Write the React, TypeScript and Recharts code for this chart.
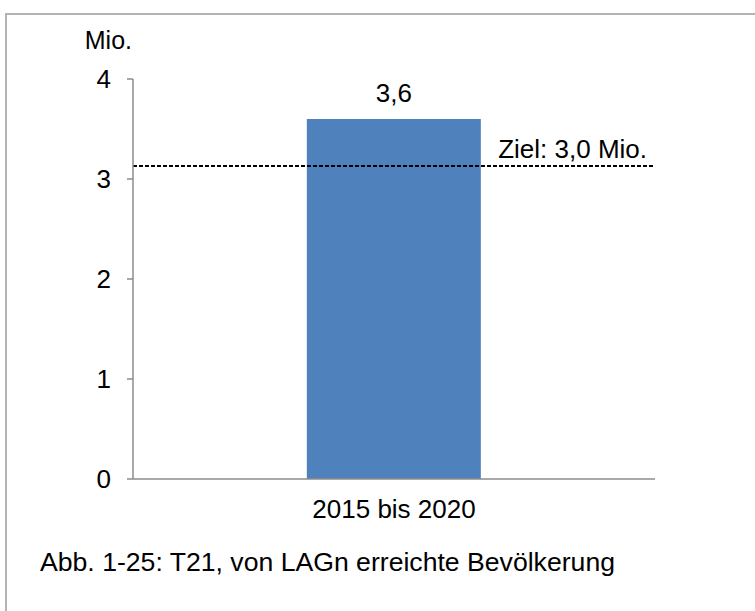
import React from 'react';
import { BarChart, Bar, XAxis, YAxis, ReferenceLine, LabelList } from 'recharts';

const categories = ['2015 bis 2020'];
const values = [3.6];
const yTicks = [0, 1, 2, 3, 4];
const target = 3.13; // drawn position of the dashed target line
const targetLabel = 'Ziel: 3,0 Mio.';
const unitLabel = 'Mio.';
const caption = 'Abb. 1-25: T21, von LAGn erreichte Bevölkerung';

const data = categories.map((name, i) => ({ name, value: values[i] }));

const FONT = '"Liberation Sans", Arial, sans-serif';
const BAR_COLOR = '#4F81BD';
const AXIS_COLOR = '#8c8c8c';

const fmt = (v: number) => String(v).replace('.', ',');

const App: React.FC = () => {
  return (
    <div style={{ position: 'absolute', left: 0, top: 0, width: 755, height: 611, background: '#fff', fontFamily: FONT }}>
      <div
        style={{
          position: 'absolute',
          left: 5,
          top: 13,
          right: 0,
          bottom: 0,
          borderTop: '2px solid #b4b4b4',
          borderLeft: '2px solid #b4b4b4',
        }}
      />
      <BarChart
        width={755}
        height={611}
        data={data}
        margin={{ top: 79, right: 100, bottom: 72, left: 53 }}
        barCategoryGap="33.3%"
        style={{ position: 'absolute', left: 0, top: 0 }}
      >
        <XAxis
          dataKey="name"
          height={60}
          tickLine={false}
          tickSize={0}
          tickMargin={21}
          stroke={AXIS_COLOR}
          strokeWidth={1.5}
          tick={{ fill: '#000', fontSize: 26, fontFamily: FONT }}
        />
        <YAxis
          width={80}
          domain={[0, 4]}
          ticks={yTicks}
          interval={0}
          tickSize={6}
          tickMargin={16}
          stroke={AXIS_COLOR}
          strokeWidth={1.5}
          tick={{ fill: '#000', fontSize: 26, fontFamily: FONT }}
        />
        <Bar dataKey="value" fill={BAR_COLOR} isAnimationActive={false}>
          <LabelList
            dataKey="value"
            position="top"
            offset={17}
            formatter={(v: any) => fmt(Number(v))}
            style={{ fill: '#000', fontSize: 26, fontFamily: FONT }}
          />
        </Bar>
        <ReferenceLine
          y={target}
          stroke="#000"
          strokeWidth={1.8}
          strokeDasharray="4 2"
          label={{
            value: targetLabel,
            position: 'insideBottomRight',
            offset: 8,
            style: { fill: '#000', fontSize: 26, fontFamily: FONT },
          }}
        />
      </BarChart>
      <svg width={755} height={611} style={{ position: 'absolute', left: 0, top: 0, pointerEvents: 'none' }}>
        <text x={132} y={49} textAnchor="end" fontSize={25} fontFamily={FONT} fill="#000">
          {unitLabel}
        </text>
        <text
          x={40}
          y={571}
          fontSize={26}
          fontFamily={FONT}
          fill="#000"
          textLength={575}
          lengthAdjust="spacingAndGlyphs"
        >
          {caption}
        </text>
      </svg>
    </div>
  );
};

export default App;
